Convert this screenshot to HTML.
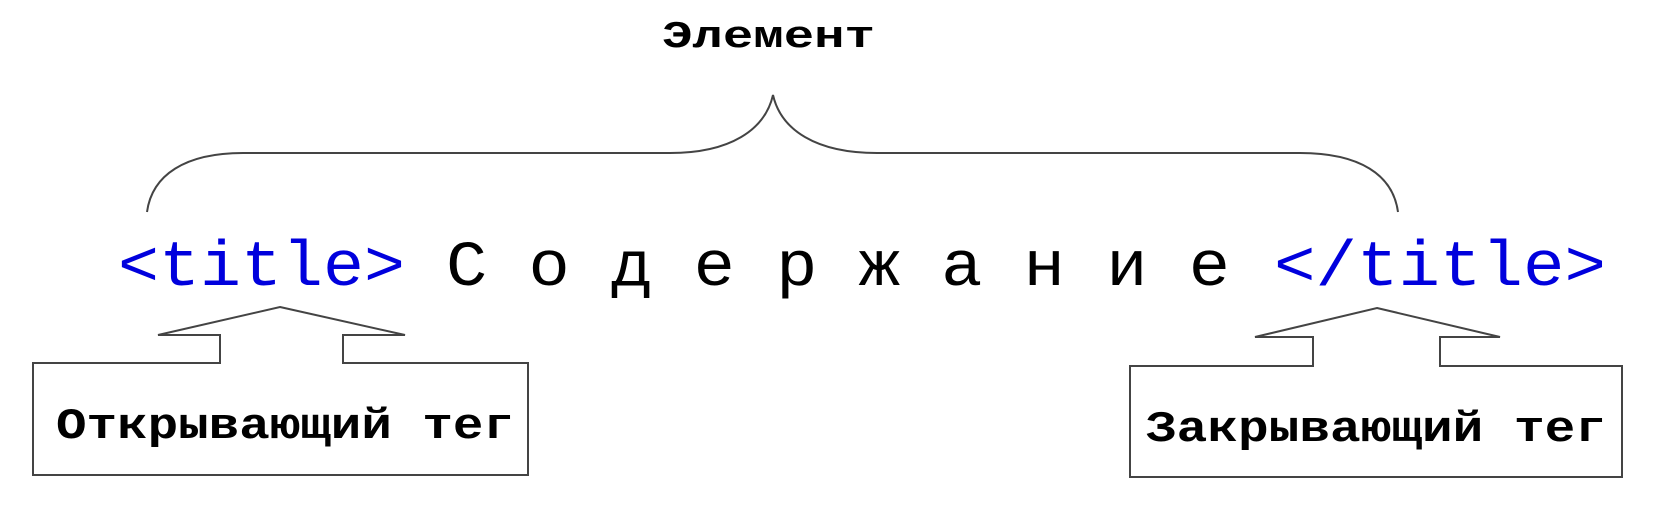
<!DOCTYPE html>
<html><head><meta charset="utf-8"><style>
html,body{margin:0;padding:0;background:#fff;}
svg{display:block;}
text{font-family:"Liberation Mono","Noto Sans CJK SC",monospace;}
</style></head><body>
<svg width="1656" height="524" viewBox="0 0 1656 524">
<text x="662" y="47" font-size="38" font-weight="bold" textLength="213" lengthAdjust="spacingAndGlyphs" fill="#000">Элемент</text>
<path d="M147,212 C152,175 185,153 243,153 L670,153 C730,153 765,130 773,95 C781,130 816,153 877,153 L1300,153 C1360,153 1393,175 1398,212" fill="none" stroke="#444" stroke-width="2"/>
<text x="118" y="285" font-size="64" fill="#0000dd" textLength="287" lengthAdjust="spacingAndGlyphs">&lt;title&gt;</text>
<text x="446" y="285" font-size="64" fill="#000" textLength="784" lengthAdjust="spacingAndGlyphs">С о д е р ж а н и е</text>
<text x="1274" y="285" font-size="64" fill="#0000dd" textLength="332" lengthAdjust="spacingAndGlyphs">&lt;/title&gt;</text>
<path d="M280,307 L405,335 L343,335 L343,363 L528,363 L528,475 L33,475 L33,363 L220,363 L220,335 L158,335 Z" fill="none" stroke="#444" stroke-width="2"/>
<text x="56" y="438" font-size="44" font-weight="bold" fill="#000" textLength="458" lengthAdjust="spacingAndGlyphs">Открывающий тег</text>
<path d="M1377,308 L1500,337 L1440,337 L1440,366 L1622,366 L1622,477 L1130,477 L1130,366 L1313,366 L1313,337 L1255,337 Z" fill="none" stroke="#444" stroke-width="2"/>
<text x="1146" y="441" font-size="44" font-weight="bold" fill="#000" textLength="460" lengthAdjust="spacingAndGlyphs">Закрывающий тег</text>
</svg>
</body></html>
